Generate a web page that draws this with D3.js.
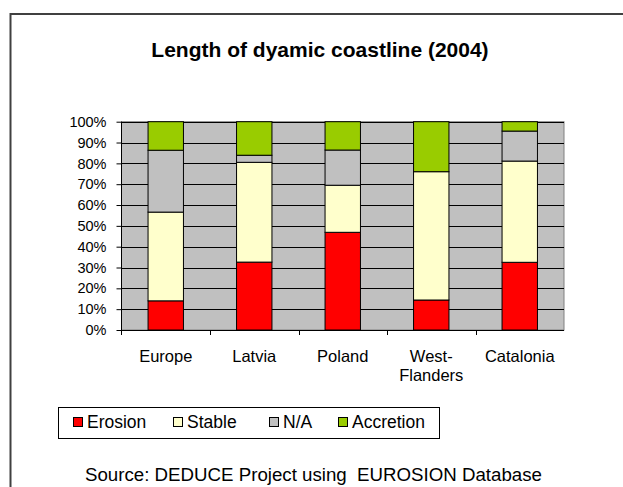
<!DOCTYPE html>
<html><head><meta charset="utf-8">
<script src="https://cdn.jsdelivr.net/npm/d3@7"></script>
<style>body{margin:0;background:#fff}svg{display:block;font-family:"Liberation Sans",Arial,sans-serif}</style>
</head><body><svg id="c" width="623" height="487"></svg>
<script>
const categories = ["Europe", "Latvia", "Poland", "West-Flanders", "Catalonia"];
const categoryLines = [["Europe"], ["Latvia"], ["Poland"], ["West-", "Flanders"], ["Catalonia"]];
const seriesNames = ["Erosion", "Stable", "N/A", "Accretion"];
const erosion = [14.0, 32.6, 46.9, 14.4, 32.5];
const stable = [42.6, 47.9, 22.6, 61.6, 48.6];
const na = [29.7, 3.4, 16.9, 0.0, 14.4];
const accretion = [13.7, 16.1, 13.6, 24.0, 4.5];
const colors = ["#FF0000", "#FFFFCC", "#C0C0C0", "#99CC00"];
const yTicks = [0, 0.1, 0.2, 0.3, 0.4, 0.5, 0.6, 0.7, 0.8, 0.9, 1.0];
const title = "Length of dyamic coastline (2004)";
const source = "Source: DEDUCE Project using\u00a0 EUROSION Database";

const svg = d3.select("#c");
// outer chart border
svg.append("rect").attr("x", 10.5).attr("y", 14).attr("width", 640).attr("height", 500)
  .attr("fill", "#fff").attr("stroke", "#404040").attr("stroke-width", 2);

svg.append("text").attr("x", 320).attr("y", 57).attr("text-anchor", "middle")
  .attr("font-weight", "bold").attr("font-size", 21).text(title);

const L = 121.5, R = 564, T = 121.7, B = 330;
const x = d3.scaleBand().domain(categories).range([L, R]).paddingInner(0.6).paddingOuter(0.3);
const xo = d3.scaleBand().domain(categories).range([L, R]);
const y = d3.scaleLinear().domain([0, 1]).range([B, T]);

svg.append("rect").attr("x", L).attr("y", T).attr("width", R - L).attr("height", B - T)
  .attr("fill", "#C0C0C0").attr("stroke", "#808080").attr("stroke-width", 1);

svg.append("g").selectAll("line").data(yTicks.filter(d => d > 0)).join("line")
  .attr("x1", L).attr("x2", R).attr("y1", d => Math.round(y(d)) + 0.5).attr("y2", d => Math.round(y(d)) + 0.5)
  .attr("stroke", "#000").attr("stroke-width", 1);

const table = categories.map((c, i) => ({cat: c, Erosion: erosion[i] / 100, Stable: stable[i] / 100, "N/A": na[i] / 100, Accretion: accretion[i] / 100}));
const stacked = d3.stack().keys(seriesNames)(table);

const g = svg.append("g");
stacked.forEach((s, si) => {
  g.selectAll(null).data(s.filter(d => d[1] - d[0] > 0.0001)).join("rect")
    .attr("x", d => x(d.data.cat)).attr("width", x.bandwidth())
    .attr("y", d => y(d[1])).attr("height", d => y(d[0]) - y(d[1]))
    .attr("fill", colors[si]).attr("stroke", "#000").attr("stroke-width", 1);
});

// y axis
const yAxis = d3.axisLeft(y).tickValues(yTicks).tickFormat(d3.format(".0%")).tickSize(5).tickPadding(10);
const ya = svg.append("g").attr("transform", `translate(${L},0)`).call(yAxis);
ya.select(".domain").remove();
ya.selectAll(".tick line").attr("stroke", "#000");
ya.selectAll(".tick text").attr("font-size", 14.5).attr("font-family", "Liberation Sans, Arial, sans-serif").attr("fill", "#000");
svg.append("line").attr("x1", L).attr("x2", L).attr("y1", T).attr("y2", B + 5).attr("stroke", "#000");

// x axis
const xa = svg.append("g").attr("transform", `translate(0,${B})`);
xa.append("line").attr("x1", L).attr("x2", R).attr("y1", 0.5).attr("y2", 0.5).attr("stroke", "#000");
xa.selectAll(".tk").data(categories.slice(1)).join("line").attr("class", "tk")
  .attr("x1", d => Math.round(xo(d)) + 0.5).attr("x2", d => Math.round(xo(d)) + 0.5)
  .attr("y1", 0).attr("y2", 5).attr("stroke", "#000");
xa.selectAll(".lbl").data(categories).join("text").attr("class", "lbl")
  .attr("text-anchor", "middle").attr("font-size", 16.5)
  .attr("x", d => xo(d) + xo.bandwidth() / 2)
  .each(function(d, i) {
    d3.select(this).selectAll("tspan").data(categoryLines[i]).join("tspan")
      .attr("x", xo(d) + xo.bandwidth() / 2).attr("y", (t, j) => 32 + j * 19).text(t => t);
  });

// legend
const lg = svg.append("g");
lg.append("rect").attr("x", 58.5).attr("y", 407.5).attr("width", 381).attr("height", 31)
  .attr("fill", "#fff").attr("stroke", "#000");
const legX = [73, 173, 269, 338];
seriesNames.forEach((n, i) => {
  lg.append("rect").attr("x", legX[i] + 0.5).attr("y", 417.5).attr("width", 9).attr("height", 9)
    .attr("fill", colors[i]).attr("stroke", "#000");
  lg.append("text").attr("x", legX[i] + 14).attr("y", 428).attr("font-size", 17.5).text(n);
});

svg.append("text").attr("x", 313.5).attr("y", 481).attr("text-anchor", "middle")
  .attr("font-size", 18.7).text(source);
</script></body></html>
